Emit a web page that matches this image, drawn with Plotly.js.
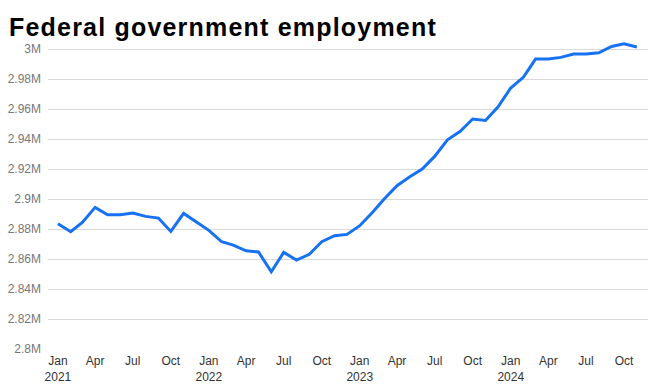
<!DOCTYPE html>
<html>
<head>
<meta charset="utf-8">
<script src="https://cdn.plot.ly/plotly-3.0.1.min.js"></script>
<style>
html,body{margin:0;padding:0;background:#fff;}
#chart{width:663px;height:391px;}
#chart .gtitle{letter-spacing:1.2px;}
</style>
</head>
<body>
<div id="chart"></div>
<script>
const employment = [
  2883500, 2878200, 2884400, 2894400, 2889500, 2889500, 2890700, 2888400, 2887300, 2878400, 2890400, 2885100,
  2879100, 2871500, 2869300, 2865500, 2864700, 2851500, 2864400, 2859300, 2863100, 2871500, 2875500, 2876400,
  2882200, 2891100, 2900000, 2908900, 2914700, 2920000, 2928400, 2939500, 2945100, 2953300, 2952400, 2961300,
  2974000, 2981300, 2993300, 2993300, 2994400, 2996700, 2996700, 2997500, 3001700, 3003500, 3001300
];
const tickDates = [
  '2021-01-01', '2021-04-01', '2021-07-01', '2021-10-01',
  '2022-01-01', '2022-04-01', '2022-07-01', '2022-10-01',
  '2023-01-01', '2023-04-01', '2023-07-01', '2023-10-01',
  '2024-01-01', '2024-04-01', '2024-07-01', '2024-10-01'
];
const tickLabels = [
  'Jan<br>2021', 'Apr', 'Jul', 'Oct',
  'Jan<br>2022', 'Apr', 'Jul', 'Oct',
  'Jan<br>2023', 'Apr', 'Jul', 'Oct',
  'Jan<br>2024', 'Apr', 'Jul', 'Oct'
];
const dates = employment.map((_, i) => {
  const y = 2021 + Math.floor(i / 12);
  const m = (i % 12) + 1;
  return y + '-' + String(m).padStart(2, '0') + '-01';
});

const trace = {
  x: dates,
  y: employment,
  type: 'scatter',
  mode: 'lines',
  line: {color: '#1672f3', width: 3},
  hoverinfo: 'x+y'
};

const layout = {
  width: 663,
  height: 391,
  margin: {l: 48, r: 15, t: 40, b: 42},
  paper_bgcolor: '#ffffff',
  plot_bgcolor: '#ffffff',
  showlegend: false,
  title: {
    text: '<b>Federal government employment</b>',
    font: {family: 'Liberation Sans, Arial, sans-serif', size: 25, color: '#000000'},
    x: 9 / 663,
    xanchor: 'left',
    xref: 'container',
    yref: 'container',
    y: 1 - 27 / 391,
    yanchor: 'middle'
  },
  xaxis: {
    type: 'date',
    range: ['2020-12-08', '2024-11-28'],
    tickmode: 'array',
    tickvals: tickDates,
    ticktext: tickLabels,
    tickangle: 0,
    showgrid: false,
    zeroline: false,
    showline: false,
    ticks: '',
    ticklabelstandoff: 3,
    tickfont: {family: 'Liberation Sans, Arial, sans-serif', size: 12, color: '#333333'}
  },
  yaxis: {
    range: [2800000, 3006000],
    dtick: 20000,
    tick0: 2800000,
    tickformat: '~s',
    showgrid: true,
    gridcolor: '#d9d9d9',
    gridwidth: 1,
    zeroline: false,
    showline: false,
    ticks: '',
    ticklabelstandoff: 6,
    tickfont: {family: 'Liberation Sans, Arial, sans-serif', size: 12, color: '#777777'}
  }
};

Plotly.newPlot('chart', [trace], layout, {displayModeBar: false, staticPlot: true});
</script>
</body>
</html>
